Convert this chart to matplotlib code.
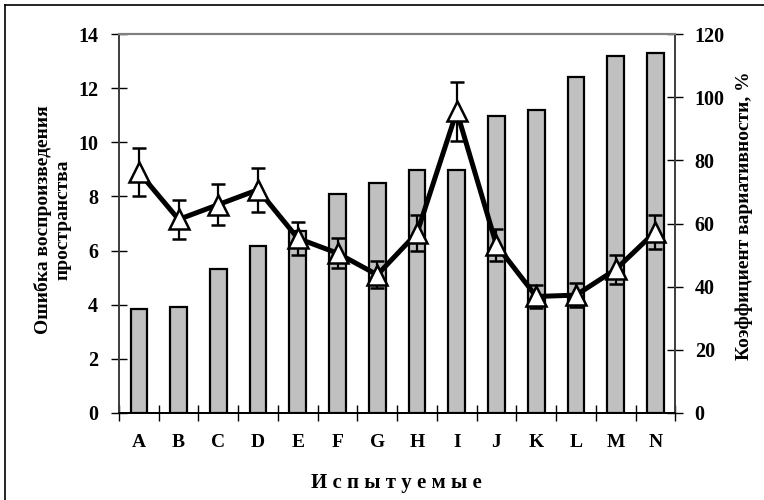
import numpy as np
import matplotlib.pyplot as plt
from matplotlib.lines import Line2D

plt.rcParams['font.family'] = ['Liberation Serif', 'DejaVu Serif']
plt.rcParams['font.weight'] = 'bold'

# subjects
subjects = ["A", "B", "C", "D", "E", "F", "G", "H", "I", "J", "K", "L", "M", "N"]

# coefficient of variation, % (bars, right axis)
cv_pct = [33, 33.5, 45.5, 53, 57.5, 69.5, 73, 77, 77, 94, 96, 106.5, 113, 114]

# mean reproduction error (line, left axis) and its error
err_mean = [8.9, 7.15, 7.7, 8.25, 6.45, 5.9, 5.1, 6.65, 11.15, 6.2, 4.3, 4.35, 5.3, 6.7]
err_se = [0.88, 0.72, 0.77, 0.82, 0.62, 0.55, 0.5, 0.65, 1.08, 0.58, 0.42, 0.45, 0.52, 0.63]

x = np.arange(len(subjects))

fig = plt.figure(figsize=(7.64, 5.0), dpi=100)
ax = fig.add_axes([0.1558, 0.1746, 0.7281, 0.7568])
ax2 = ax.twinx()

ax2.bar(x, cv_pct, width=0.42, color="#c0c0c0", edgecolor="black", linewidth=1.6)
ax2.set_ylim(0, 120)
ax2.set_yticks(np.arange(0, 121, 20))

ax.errorbar(x, err_mean, yerr=err_se, color="black", lw=3.6, marker="^", ms=14,
            mfc="white", mec="black", mew=1.8, ecolor="black", elinewidth=1.6,
            capsize=5, capthick=1.6)
ax.set_zorder(ax2.get_zorder() + 1)
ax.patch.set_visible(False)

ax.set_ylim(0, 14)
ax.set_yticks(np.arange(0, 15, 2))
ax.set_xlim(-0.5, len(subjects) - 0.5)
ax.set_xticks(x)
ax.set_xticklabels(subjects)
ax.set_xticks(np.arange(-0.5, len(subjects)), minor=True)

ax.tick_params(axis="x", which="major", length=0, pad=15, labelsize=14)
ax.tick_params(axis="x", which="minor", length=12, direction="inout", width=1)
ax.tick_params(axis="y", length=12, direction="inout", width=1, pad=9, labelsize=14.5)
ax2.tick_params(axis="y", length=12, direction="inout", width=1, pad=8, labelsize=14.5)

for a in (ax, ax2):
    a.spines["top"].set_color("#808080")
    a.spines["top"].set_linewidth(1.5)
    a.spines["left"].set_color("#404040")
    a.spines["right"].set_color("#404040")
    a.spines["bottom"].set_color("black")
    for s in ("left", "right", "bottom"):
        a.spines[s].set_linewidth(1.3)

fig.text(0.069, 0.56, "Ошибка воспроизведения\nпространства", rotation=90, ha="center",
         va="center", multialignment="center", fontsize=14, fontweight="bold",
         linespacing=1.25)
fig.text(0.974, 0.568, "Коэффициент вариативности, %", rotation=90, ha="center",
         va="center", fontsize=14, fontweight="bold")
fig.text(0.519, 0.034, "И с п ы т у е м ы е", ha="center", va="center",
         fontsize=15, fontweight="bold")

# frame lines of the original figure (only top and left survive the crop)
fig.add_artist(Line2D([0.0065, 1.0], [0.99, 0.99], color="black", lw=1.2))
fig.add_artist(Line2D([0.0065, 0.0065], [0.0, 0.99], color="black", lw=1.2))

fig.savefig("out.png", dpi=100)
